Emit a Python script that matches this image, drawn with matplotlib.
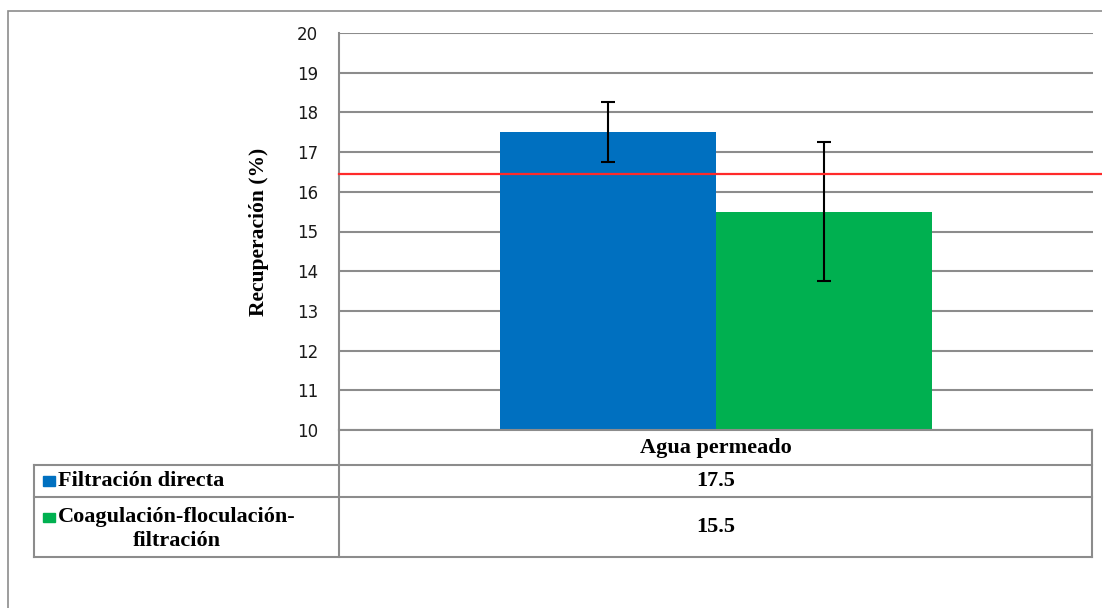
import matplotlib.pyplot as plt
from matplotlib.patches import Rectangle
from matplotlib.lines import Line2D

# data
category = 'Agua permeado'
series = ['Filtración directa', 'Coagulación-floculación-\nfiltración']
values = [17.5, 15.5]
errors = [0.75, 1.75]
colors = ['#0070c0', '#00b050']
reference = 16.45
yticks = list(range(10, 21))

W, H = 1102, 608
fig = plt.figure(figsize=(W / 100, H / 100), dpi=100)


def fx(px):
    return px / W


def fy(py):
    return 1 - py / H


GRID = '#8c8c8c'
serif = 'Liberation Serif'

# outer chart frame
fig.add_artist(Rectangle((fx(8), fy(640)), fx(1120), fy(11) - fy(640),
                         fill=False, edgecolor=GRID, lw=1.2,
                         transform=fig.transFigure))

# plot area
left, right, top, bottom = 339, 1093, 33, 430
ax = fig.add_axes([fx(left), fy(bottom), fx(right - left), fy(top) - fy(bottom)])
ax.set_xlim(0, 1)
ax.set_ylim(10, 20)
ax.set_yticks(yticks)
ax.set_xticks([])
for s in ['top', 'right', 'bottom']:
    ax.spines[s].set_visible(False)
ax.spines['left'].set_color(GRID)
ax.spines['left'].set_linewidth(1.5)
ax.tick_params(axis='y', length=0, pad=15, labelsize=12, labelcolor='#1a1a1a')
ax.yaxis.grid(True, color=GRID, lw=1.5)
ax.set_axisbelow(True)

bw = 0.286
center = 0.5
for i, (v, e, c) in enumerate(zip(values, errors, colors)):
    x = center + (i - 0.5) * bw
    ax.bar(x, v - 10, bottom=10, width=bw, color=c, zorder=2)
    ax.errorbar(x, v, yerr=e, fmt='none', ecolor='black', elinewidth=1.5,
                capsize=5, capthick=1.5, zorder=3)

ax.axhline(reference, xmin=0, xmax=(1102 - left) / (right - left),
           color='#ff2a2a', lw=1.6, clip_on=False, zorder=4)

fig.text(fx(259), fy(232), 'Recuperación (%)', rotation=90, ha='center',
         va='center', fontsize=15.5, fontweight='bold', family=serif)

# data table
rows = [430, 465, 497, 557]
tleft, tsplit, tright = 34, 339, 1092


def hline(x0, x1, y):
    fig.add_artist(Line2D([fx(x0), fx(x1)], [fy(y), fy(y)], color=GRID, lw=1.5,
                          transform=fig.transFigure))


def vline(x, y0, y1):
    fig.add_artist(Line2D([fx(x), fx(x)], [fy(y0), fy(y1)], color=GRID, lw=1.5,
                          transform=fig.transFigure))


hline(tsplit, tright, rows[0])
for y in rows[1:]:
    hline(tleft, tright, y)
vline(tleft, rows[1], rows[3])
vline(tsplit, rows[0], rows[3])
vline(tright, rows[0], rows[3])

mid = (tsplit + tright) / 2
fig.text(fx(mid), fy((rows[0] + rows[1]) / 2), category, ha='center', va='center',
         fontsize=16, fontweight='bold', family=serif)

# legend key rows: label centre and key square centre
label_y = [481, 529]
key_y = [481, 517]
for name, v, c, ly, ky, r0, r1 in zip(series, values, colors, label_y, key_y,
                                      rows[1:-1], rows[2:]):
    fig.add_artist(Rectangle((fx(43), fy(ky + 4.5)), fx(12), fy(ky - 4.5) - fy(ky + 4.5),
                             color=c, transform=fig.transFigure))
    fig.text(fx(58), fy(ly), name, ha='left', va='center',
             multialignment='center', fontsize=16, fontweight='bold',
             family=serif, linespacing=1.25)
    fig.text(fx(mid), fy((r0 + r1) / 2), f'{v:.1f}',
             ha='center', va='center', fontsize=16, fontweight='bold',
             family=serif)

fig.savefig('out.png', dpi=100)
